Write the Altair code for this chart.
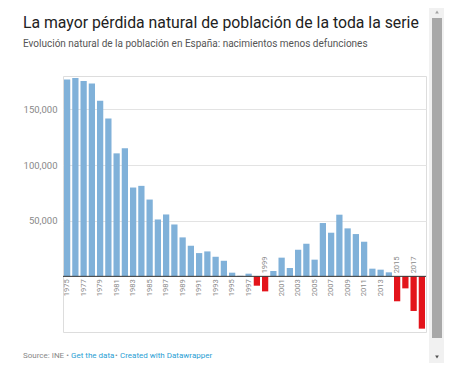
import altair as alt
import pandas as pd

years = list(range(1975, 2019))
values = [176900, 178300, 175600, 173200, 157700, 141900, 110500, 115000, 79800, 81300,
          69000, 51100, 55600, 46600, 35000, 27500, 20900, 22400, 17600, 14000,
          3300, 500, 2400, -8400, -13500, 4800, 16800, 7500, 23900, 29300,
          15000, 47900, 39200, 55400, 43100, 38000, 31100, 6900, 6000, 3600,
          -22400, -10800, -31100, -47000]
y_ticks = [50000, 100000, 150000]

title_text = "La mayor pérdida natural de población de la toda la serie"
subtitle_text = "Evolución natural de la población en España: nacimientos menos defunciones"
footer_parts = ["Source: INE \u2022", "Get the data", "\u2022", "Created with Datawrapper"]

df = pd.DataFrame({"year": years, "value": values})
df["sign"] = ["neg" if v < 0 else "pos" for v in values]
df["label"] = [str(y) if (y - 1975) % 2 == 0 else "" for y in years]

FONT = "Roboto"
W, H = 363, 256

xscale = alt.Scale(paddingInner=0.24, paddingOuter=0.12)
yscale = alt.Scale(domain=[-50000, 180000], nice=False)

bars = alt.Chart(df).mark_bar().encode(
    x=alt.X("year:O", scale=xscale, axis=None),
    y=alt.Y("value:Q", scale=yscale,
            axis=alt.Axis(values=y_ticks, format=",d", title=None, domain=False,
                          ticks=False, labelColor="#888888", labelFont=FONT,
                          labelFontSize=9.5, labelPadding=6, gridColor="#e3e3e3")),
    color=alt.Color("sign:N", scale=alt.Scale(domain=["pos", "neg"],
                                              range=["#80b1d9", "#e3141b"]), legend=None),
)

zero = alt.Chart(pd.DataFrame({"z": [0]})).mark_rule(color="#333333", strokeWidth=1).encode(
    y=alt.Y("z:Q", scale=yscale)
)

lab_below = alt.Chart(df).transform_filter(
    "datum.label != '' && datum.value >= 0"
).mark_text(angle=270, align="right", baseline="middle", dx=-3, font=FONT,
            fontSize=7.5, color="#8a8a8a").encode(
    x=alt.X("year:O", scale=xscale),
    y=alt.datum(0),
    text="label:N",
)

lab_above = alt.Chart(df).transform_filter(
    "datum.label != '' && datum.value < 0"
).mark_text(angle=270, align="left", baseline="middle", dx=3, font=FONT,
            fontSize=7.5, color="#8a8a8a").encode(
    x=alt.X("year:O", scale=xscale),
    y=alt.datum(0),
    text="label:N",
)

one = pd.DataFrame({"a": [0]})

title = alt.Chart(one).mark_text(align="left", baseline="alphabetic", font=FONT,
                                 fontSize=15.8, color="#222222").encode(
    x=alt.value(-40), y=alt.value(-48), text=alt.value(title_text))
subtitle = alt.Chart(one).mark_text(align="left", baseline="alphabetic", font=FONT,
                                    fontSize=10, color="#555555").encode(
    x=alt.value(-40), y=alt.value(-29), text=alt.value(subtitle_text))

footer_x = [-40, 8, 52, 57]
footer_col = ["#888888", "#2aa0d4", "#888888", "#2aa0d4"]
footers = [
    alt.Chart(one).mark_text(align="left", baseline="alphabetic", font=FONT,
                             fontSize=8, color=c).encode(
        x=alt.value(xv), y=alt.value(282), text=alt.value(t))
    for t, xv, c in zip(footer_parts, footer_x, footer_col)
]

# browser scrollbar visible in the reference screenshot
track = alt.Chart(one).mark_rect(color="#f1f1f1").encode(
    x=alt.value(366), x2=alt.value(381), y=alt.value(-68), y2=alt.value(287))
thumb = alt.Chart(one).mark_rect(color="#a8a8a8").encode(
    x=alt.value(369), x2=alt.value(379), y=alt.value(-58), y2=alt.value(262))
up = alt.Chart(one).mark_point(shape="triangle-up", filled=True, size=14,
                               color="#a3a3a3", opacity=1).encode(
    x=alt.value(374), y=alt.value(-64))
down = alt.Chart(one).mark_point(shape="triangle-down", filled=True, size=14,
                                 color="#505050", opacity=1).encode(
    x=alt.value(374), y=alt.value(281))

chart = alt.layer(
    bars, zero, lab_below, lab_above, title, subtitle, *footers, track, thumb, up, down
).properties(
    width=W, height=H,
    autosize=alt.AutoSizeParams(type="none"),
    padding={"left": 55, "top": 68, "right": 36, "bottom": 38},
).configure_view(stroke=None).configure(background="white")

chart.save("out.html", embed_options={"renderer": "svg", "actions": False})
